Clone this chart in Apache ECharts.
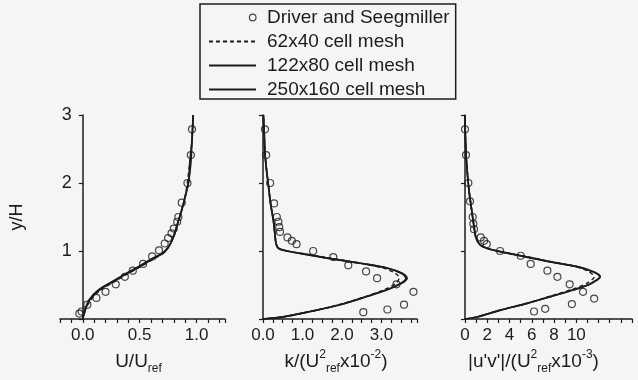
<!DOCTYPE html>
<html>
<head>
<meta charset="utf-8">
<script src="https://cdn.jsdelivr.net/npm/echarts@6/dist/echarts.min.js"></script>
<style>
html, body { margin: 0; padding: 0; background: #f5f5f5; }
#chart { width: 638px; height: 380px; }
</style>
</head>
<body>
<div id="chart"></div>
<script>
// series names (legend order)
const names = ['Driver and Seegmiller', '62x40 cell mesh', '122x80 cell mesh', '250x160 cell mesh'];

// panel 1: U/Uref vs y/H
const uExp = [[0.96,2.79],[0.95,2.41],[0.92,2.0],[0.87,1.71],[0.84,1.5],[0.83,1.43],[0.8,1.33],[0.78,1.26],[0.75,1.19],[0.72,1.11],[0.67,1.01],[0.61,0.92],[0.53,0.81],[0.44,0.71],[0.37,0.62],[0.29,0.51],[0.2,0.4],[0.12,0.31],[0.04,0.21],[-0.01,0.11],[-0.03,0.08]];
const u62 = [[0,0],[0.02,0.12],[0.07,0.28],[0.16,0.43],[0.28,0.55],[0.39,0.66],[0.51,0.77],[0.62,0.88],[0.7,0.96],[0.75,1.05],[0.78,1.14],[0.81,1.27],[0.84,1.44],[0.87,1.6],[0.9,1.8],[0.92,2.02],[0.94,2.29],[0.96,2.63],[0.97,3.0]];
const u122 = [[0,0],[0.02,0.13],[0.06,0.28],[0.15,0.43],[0.27,0.55],[0.38,0.66],[0.5,0.77],[0.62,0.89],[0.71,0.97],[0.75,1.05],[0.78,1.14],[0.81,1.27],[0.84,1.44],[0.87,1.6],[0.9,1.8],[0.93,2.02],[0.94,2.29],[0.96,2.63],[0.97,3.0]];
const u250 = [[0,0],[0.02,0.14],[0.06,0.29],[0.14,0.43],[0.26,0.55],[0.38,0.67],[0.5,0.78],[0.61,0.89],[0.7,0.97],[0.75,1.05],[0.78,1.14],[0.81,1.27],[0.84,1.44],[0.87,1.61],[0.9,1.8],[0.93,2.02],[0.95,2.3],[0.96,2.63],[0.97,3.0]];

// panel 2: k/(Uref^2 x10^-2)
const kExp = [[0.05,2.79],[0.08,2.41],[0.18,2.0],[0.28,1.7],[0.35,1.5],[0.39,1.43],[0.41,1.35],[0.43,1.28],[0.62,1.2],[0.73,1.15],[0.85,1.1],[1.27,1.0],[1.78,0.91],[2.16,0.79],[2.61,0.7],[2.89,0.6],[3.38,0.51],[3.81,0.4],[3.57,0.21],[3.15,0.14],[2.54,0.1]];
const k62 = [[0,0],[0.5,0.03],[1.2,0.11],[1.98,0.22],[2.65,0.34],[3.1,0.44],[3.38,0.53],[3.45,0.61],[3.33,0.68],[2.98,0.76],[2.38,0.83],[1.74,0.89],[1.16,0.95],[0.6,1.0],[0.39,1.04],[0.33,1.11],[0.3,1.26],[0.26,1.46],[0.19,1.7],[0.14,1.95],[0.09,2.19],[0.05,2.44],[0.03,2.74],[0.01,3.0]];
const k122 = [[0,0],[0.51,0.03],[1.19,0.11],[1.95,0.21],[2.62,0.33],[3.13,0.43],[3.47,0.52],[3.62,0.6],[3.51,0.67],[3.13,0.75],[2.46,0.82],[1.78,0.88],[1.19,0.94],[0.6,1.0],[0.39,1.04],[0.33,1.11],[0.3,1.26],[0.26,1.46],[0.19,1.7],[0.14,1.95],[0.09,2.19],[0.05,2.44],[0.03,2.74],[0.01,3.0]];
const k250 = [[0,0],[0.52,0.03],[1.2,0.11],[1.96,0.21],[2.63,0.33],[3.15,0.43],[3.5,0.52],[3.65,0.6],[3.54,0.67],[3.15,0.75],[2.47,0.82],[1.79,0.88],[1.2,0.94],[0.61,1.0],[0.39,1.04],[0.33,1.11],[0.3,1.26],[0.26,1.46],[0.19,1.7],[0.14,1.95],[0.09,2.19],[0.05,2.44],[0.03,2.74],[0.01,3.0]];

// panel 3: |u'v'|/(Uref^2 x10^-3)
const uvExp = [[0,2.79],[0.09,2.41],[0.3,2.0],[0.45,1.73],[0.69,1.5],[0.75,1.4],[0.81,1.32],[1.41,1.2],[1.71,1.15],[1.95,1.1],[3.15,1.0],[5.0,0.93],[5.9,0.81],[7.4,0.71],[8.3,0.62],[9.4,0.51],[10.6,0.4],[11.6,0.3],[9.6,0.22],[7.2,0.15],[6.2,0.11]];
const uv62 = [[0,0],[1.05,0.03],[3.2,0.13],[5.6,0.23],[7.7,0.34],[9.7,0.44],[11.0,0.53],[11.6,0.62],[11.1,0.7],[9.7,0.78],[7.5,0.85],[5.5,0.92],[3.15,0.99],[1.95,1.04],[1.35,1.09],[0.99,1.19],[0.81,1.36],[0.6,1.6],[0.39,1.85],[0.24,2.09],[0.09,2.44],[0.02,2.78],[0,3.0]];
const uv122 = [[0,0],[1.05,0.03],[3.15,0.13],[5.56,0.23],[7.66,0.33],[9.76,0.43],[11.26,0.52],[12.1,0.62],[11.56,0.69],[10.06,0.77],[7.66,0.84],[5.56,0.91],[3.15,0.99],[1.95,1.04],[1.35,1.09],[0.99,1.19],[0.81,1.36],[0.6,1.6],[0.39,1.85],[0.24,2.09],[0.09,2.44],[0.02,2.78],[0,3.0]];
const uv250 = [[0,0],[1.1,0.03],[3.2,0.13],[5.6,0.23],[7.7,0.33],[9.8,0.43],[11.3,0.52],[12.15,0.62],[11.6,0.69],[10.1,0.77],[7.7,0.84],[5.6,0.91],[3.2,0.99],[1.97,1.04],[1.36,1.09],[1.0,1.19],[0.81,1.36],[0.6,1.6],[0.39,1.85],[0.24,2.09],[0.09,2.44],[0.02,2.78],[0,3.0]];

const panels = [
  { exp: uExp, lines: [u62, u122, u250] },
  { exp: kExp, lines: [k62, k122, k250] },
  { exp: uvExp, lines: [uv62, uv122, uv250] }
];

const ink = '#1c1c1c';
const font = '"Liberation Sans", Arial, sans-serif';

const near = (v, step) => Math.abs(v / step - Math.round(v / step)) < 1e-6;
const fmtU = v => (near(v, 0.5) && v > -1e-6 && v < 1.0001) ? (Math.abs(v) < 1e-9 ? 0 : v).toFixed(1) : '';
const fmtK = v => (near(v, 1) && v > -1e-6 && v < 3.0001) ? Math.round(v).toFixed(1) : '';
const fmtUV = v => (near(v, 2) && v > -1e-6 && v < 10.0001) ? String(Math.round(v)) : '';

const rich = {
  sub: { fontSize: 12, lineHeight: 12, verticalAlign: 'bottom', color: ink, fontFamily: font },
  sup: { fontSize: 12, lineHeight: 12, verticalAlign: 'top', color: ink, fontFamily: font }
};

function xAx(i, min, max, interval, fmt, name, shift) {
  return {
    type: 'value', gridIndex: i, min: min, max: max, interval: interval,
    axisLine: { onZero: false, lineStyle: { color: ink, width: 1.5 } },
    axisTick: { length: 4, lineStyle: { color: ink, width: 1.2 } },
    axisLabel: { formatter: fmt, color: ink, fontSize: 17, fontFamily: font, margin: 8 },
    splitLine: { show: false },
    name: name, nameLocation: 'middle', nameGap: 26,
    nameTextStyle: { color: ink, fontSize: 19, fontFamily: font, lineHeight: 26, padding: [0, shift, 0, 0], rich: rich }
  };
}

// the first panel's x axis starts at -0.2, so its y axis is pulled in to x = 0
function yAx(i, offset) {
  return {
    type: 'value', gridIndex: i, min: 0, max: 3, interval: 1, offset: offset,
    axisLine: { onZero: false, lineStyle: { color: ink, width: 1.5 } },
    axisTick: { length: 4, lineStyle: { color: ink, width: 1.2 } },
    axisLabel: { show: i === 0, formatter: v => v === 0 ? '' : String(v), color: ink, fontSize: 18, fontFamily: font, margin: 11 },
    splitLine: { show: false },
    name: i === 0 ? 'y/H' : '', nameLocation: 'middle', nameGap: 57,
    nameTextStyle: { color: ink, fontSize: 18, fontFamily: font }
  };
}

const series = [];
panels.forEach((p, i) => {
  p.lines.forEach((d, j) => {
    series.push({
      type: 'line', name: names[j + 1], xAxisIndex: i, yAxisIndex: i,
      data: d, symbol: 'none', smooth: 0.3, color: ink,
      lineStyle: { color: ink, width: j === 0 ? 1.4 : 1.7, type: j === 0 ? [4, 3] : 'solid' }
    });
  });
  series.push({
    type: 'scatter', name: names[0], xAxisIndex: i, yAxisIndex: i,
    data: p.exp, symbol: 'circle', symbolSize: 7, z: 3,
    itemStyle: { color: 'rgba(0,0,0,0)', borderColor: ink, borderWidth: 1.2 }
  });
});

const chart = echarts.init(document.getElementById('chart'));
chart.setOption({
  backgroundColor: '#f5f5f5',
  animation: false,
  legend: {
    orient: 'vertical', left: 200, top: 4,
    itemWidth: 47, itemHeight: 14, itemGap: 5,
    padding: [4, 6, 0, 8],
    borderColor: ink, borderWidth: 1.5,
    textStyle: { color: ink, fontSize: 19, fontFamily: font, lineHeight: 18, padding: [0, 0, 0, 6] },
    data: [
      { name: names[0], icon: 'path://M0,0M0,14M50,7A3.5,3.5,0,1,1,43,7A3.5,3.5,0,1,1,50,7Z',
        itemStyle: { color: 'rgba(0,0,0,0)', borderColor: ink, borderWidth: 1.2 } },
      { name: names[1], itemStyle: { opacity: 0 } },
      { name: names[2], itemStyle: { opacity: 0 } },
      { name: names[3], itemStyle: { opacity: 0 } }
    ]
  },
  grid: [
    { left: 60, top: 115, width: 165, height: 204, outerBoundsMode: 'none' },
    { left: 263, top: 115, width: 154, height: 204, outerBoundsMode: 'none' },
    { left: 465, top: 115, width: 167, height: 204, outerBoundsMode: 'none' }
  ],
  xAxis: [
    xAx(0, -0.2, 1.25, 0.1, fmtU, 'U/U{sub|ref}', 8),
    xAx(1, 0, 3.9, 0.25, fmtK, 'k/(U{sup|2}{sub|ref}x10{sup|-2})', 8),
    xAx(2, 0, 15, 1, fmtUV, "|u'v'|/(U{sup|2}{sub|ref}x10{sup|-3})", 30)
  ],
  yAxis: [yAx(0, -22.8), yAx(1, 0), yAx(2, 0)],
  series: series
});
</script>
</body>
</html>
